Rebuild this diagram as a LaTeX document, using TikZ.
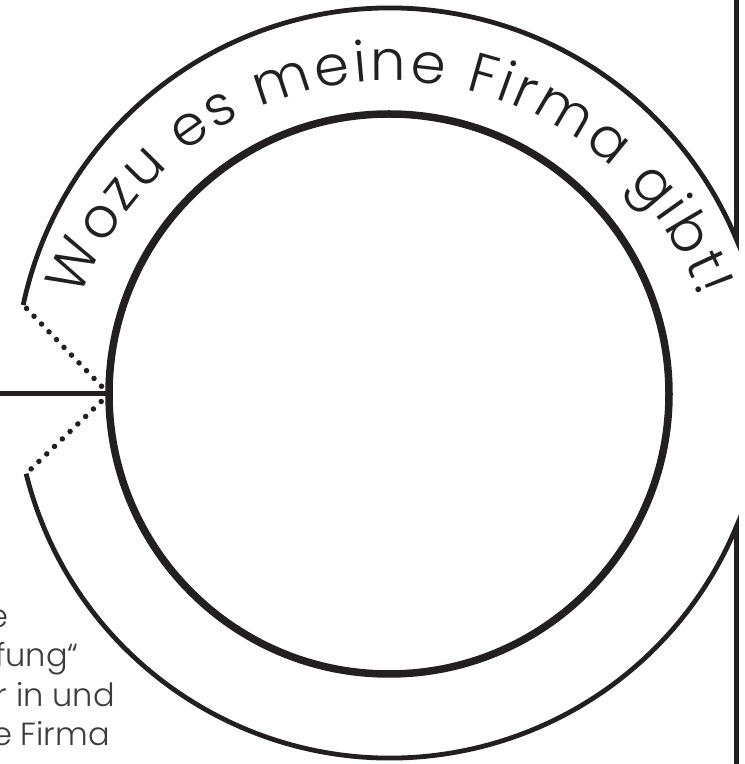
\documentclass[tikz,border=0pt]{standalone}
\usepackage{fontspec}
\setmainfont{Poppins}[UprightFont={* Light}]
\usetikzlibrary{calc,decorations.text}
\definecolor{ink}{HTML}{231F20}
\definecolor{copy}{HTML}{3C3C3C}
\begin{document}
\begin{tikzpicture}[x=1pt,y=1pt,
ring/.style={draw=ink,line width=4.8pt,line join=miter},
core/.style={draw=ink,line width=7.5pt},
stem/.style={draw=ink,line width=5pt},
dots/.style={draw=ink,line width=5.5pt,line cap=round,dash pattern=on 0pt off 10.8pt},
body/.style={text=copy,font=\fontsize{32}{39}\selectfont,anchor=base east,inner sep=0pt}]
\useasboundingbox (0,0) rectangle (745,764);
\clip (0,0) rectangle (745,764);
\coordinate (T) at (0,764);
\coordinate (B) at (0,0);
\coordinate (O) at (390,381);
\coordinate (M) at (389,370);
\coordinate (C) at (390,354);
\coordinate (J) at (109,370);
\coordinate (L) at (0,370);
\coordinate (UL) at ($(O)+(168:375)$);
\coordinate (UR) at ($(O)+(22.5:375)$);
\coordinate (LL) at ($(O)+(194:375)$);
\coordinate (LR) at ($(O)+(-22.5:375)$);
\coordinate (S) at ($(C)+(160:329)$);
\draw[ring] (UL) arc[start angle=168,end angle=22.5,radius=375] -- (UR |- T);
\draw[ring] (LL) arc[start angle=194,end angle=337.5,radius=375] -- (LR |- B);
\draw[core] (M) circle[radius=280];
\draw[stem] (L) -- (J);
\draw[dots] (J) -- (UL);
\draw[dots] (J) -- (LL);
\path[decorate,decoration={text along path,text align={fit to path},
text={|\fontsize{56}{56}\selectfont\color{ink}|Wozu es meine Firma gibt!}}]
(S) arc[start angle=160,end angle=20,radius=329];
\node[body] (t1) at (9,136) {e};
\node[body] (t2) at (79,97) {fung“};
\node[body] (t3) at (115,57) {r in und};
\node[body] (t4) at (110,19) {e Firma};
\end{tikzpicture}
\end{document}
